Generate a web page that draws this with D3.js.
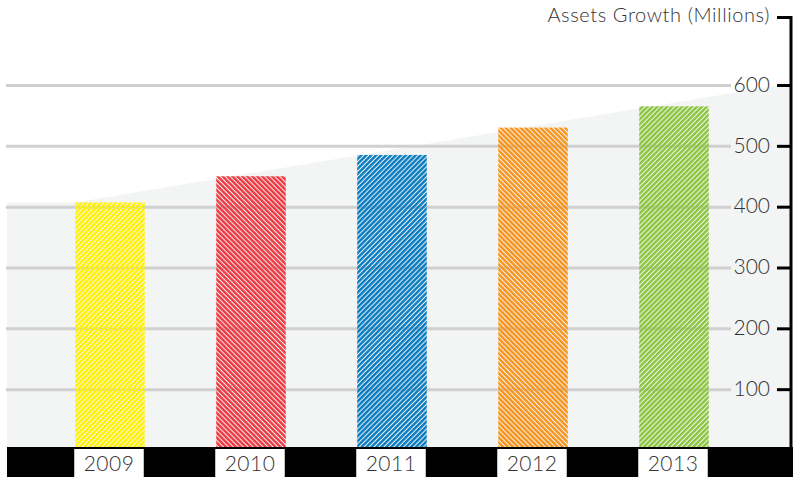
<!DOCTYPE html>
<html>
<head>
<meta charset="utf-8">
<script src="https://cdn.jsdelivr.net/npm/d3@7"></script>
<style>
  body { margin: 0; background: #fff; }
  text { font-family: "Lato", "DejaVu Sans", sans-serif; font-weight: 300; fill: #333; }
</style>
</head>
<body>
<div id="chart"></div>
<script>
// data
var years = ["2009", "2010", "2011", "2012", "2013"];
var assets = [407, 450, 485, 530, 565];
var barColors = ["#fff200", "#ee3a43", "#0b7dc2", "#f7941d", "#8cc63f"];
var hatchAngles = [45, -45, 45, -45, 45];
var tickValues = [100, 200, 300, 400, 500, 600];
var trendValues = [407, 603]; // shaded growth band: at first bar, at axis
var title = "Assets Growth (Millions)";

function init() {
    var w = 793;
    var h = 477;
    var axisX = 791;
    var baseY = 447;

    var svg = d3.select("#chart")
                .append("svg")
                .attr("width", w)
                .attr("height", h);

    var x = d3.scaleBand()
                .domain(years)
                .range([7, 777])
                .paddingInner(0.507)
                .paddingOuter(0.484);

    var y = d3.scaleLinear()
                .domain([0, 600])
                .range([450, 85]);

    // hatch patterns, one per bar
    var defs = svg.append("defs");
    years.forEach(function(yr, i) {
        var p = defs.append("pattern")
                    .attr("id", "hatch" + i)
                    .attr("patternUnits", "userSpaceOnUse")
                    .attr("width", 3.5)
                    .attr("height", 10)
                    .attr("patternTransform", "rotate(" + hatchAngles[i] + ")");
        p.append("rect")
            .attr("width", 2.5)
            .attr("height", 10)
            .attr("fill", barColors[i]);
    });

    // light grey growth area
    var x0 = x(years[0]);
    var area = [
        [7, y(trendValues[0])],
        [x0, y(trendValues[0])],
        [axisX, y(trendValues[1])],
        [axisX, baseY],
        [7, baseY]
    ];
    svg.append("path")
        .attr("d", "M" + area.join("L") + "Z")
        .attr("fill", "#f3f4f4");

    // gridlines
    var grid = svg.append("g")
                .attr("transform", "translate(731,0)")
                .call(d3.axisLeft(y).tickValues(tickValues).tickSize(725).tickFormat(""));
    grid.select(".domain").remove();
    grid.selectAll("line")
        .attr("stroke", "#d0d0d0")
        .attr("stroke-width", 3);

    // bars
    svg.selectAll("rect.bar")
        .data(assets)
        .enter()
        .append("rect")
        .attr("class", "bar")
        .attr("x", function(d, i) { return x(years[i]); })
        .attr("y", function(d) { return y(d); })
        .attr("width", x.bandwidth())
        .attr("height", function(d) { return baseY - y(d); })
        .attr("fill", function(d, i) { return "url(#hatch" + i + ")"; });

    // bottom black band with white year boxes
    svg.append("rect")
        .attr("x", 7)
        .attr("y", baseY)
        .attr("width", w - 7)
        .attr("height", h - baseY)
        .attr("fill", "#000");

    svg.selectAll("rect.yearbox")
        .data(years)
        .enter()
        .append("rect")
        .attr("class", "yearbox")
        .attr("x", function(d) { return x(d) - 1; })
        .attr("y", baseY + 2)
        .attr("width", x.bandwidth())
        .attr("height", h - baseY - 2)
        .attr("fill", "#fff");

    svg.selectAll("text.year")
        .data(years)
        .enter()
        .append("text")
        .attr("class", "year")
        .attr("x", function(d) { return x(d) + x.bandwidth() / 2 - 1; })
        .attr("y", 471)
        .attr("text-anchor", "middle")
        .style("font-size", "21px")
        .style("letter-spacing", "0.5px")
        .text(function(d) { return d; });

    // right axis
    var axis = svg.append("g")
                .attr("transform", "translate(" + axisX + ",0)")
                .call(d3.axisLeft(y).tickValues(tickValues).tickSize(14).tickPadding(7));
    axis.select(".domain").remove();
    axis.selectAll("line")
        .attr("stroke", "#000")
        .attr("stroke-width", 3);
    axis.selectAll("text")
        .style("font-size", "21px")
        .attr("dy", "0.3em");

    svg.append("line")
        .attr("x1", axisX)
        .attr("x2", axisX)
        .attr("y1", 16)
        .attr("y2", baseY)
        .attr("stroke", "#000")
        .attr("stroke-width", 3);

    svg.append("line")
        .attr("x1", axisX - 14)
        .attr("x2", axisX)
        .attr("y1", 17.5)
        .attr("y2", 17.5)
        .attr("stroke", "#000")
        .attr("stroke-width", 3);

    svg.append("text")
        .attr("x", 770)
        .attr("y", 22)
        .attr("text-anchor", "end")
        .style("font-size", "20px")
        .style("letter-spacing", "0.6px")
        .text(title);
}

window.onload = init;
</script>
</body>
</html>
